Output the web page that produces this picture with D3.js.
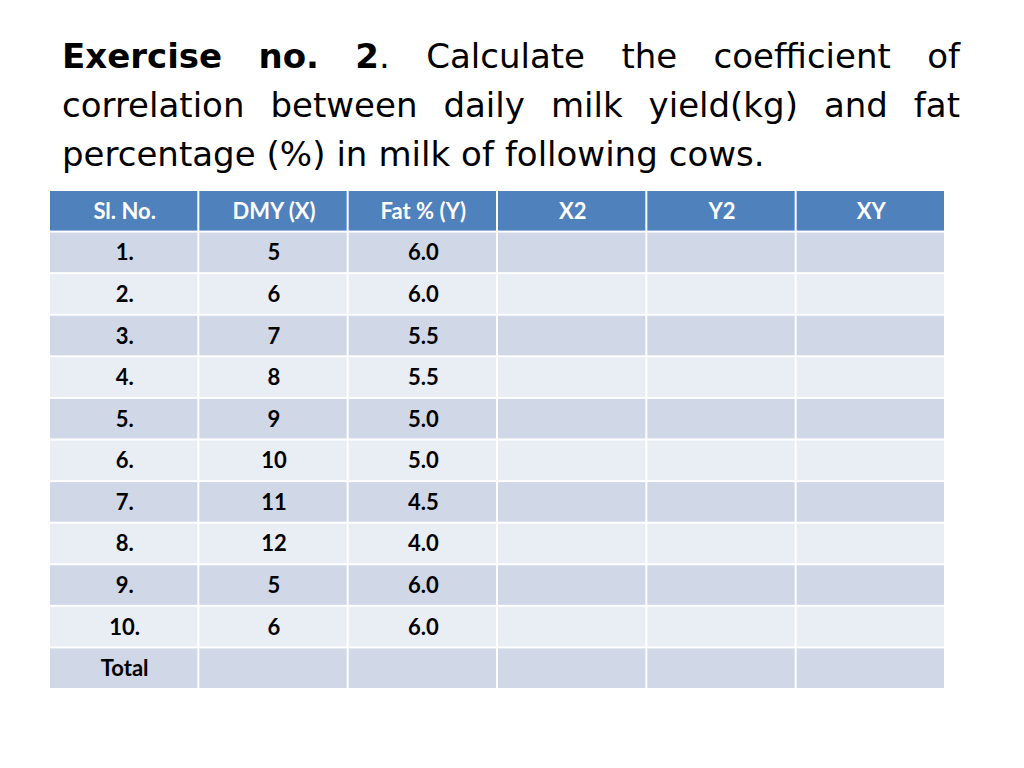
<!doctype html>
<html>
<head>
<meta charset="utf-8">
<script src="https://d3js.org/d3.v7.min.js"></script>
<style>body{margin:0;background:#fff}</style>
</head>
<body>
<svg id="c" width="1024" height="768"></svg>
<script>
const columns = ["Sl. No.", "DMY (X)", "Fat % (Y)", "X2", "Y2", "XY"];
const slNo = ["1.", "2.", "3.", "4.", "5.", "6.", "7.", "8.", "9.", "10.", "Total"];
const dmy = ["5", "6", "7", "8", "9", "10", "11", "12", "5", "6", ""];
const fat = ["6.0", "6.0", "5.5", "5.5", "5.0", "5.0", "4.5", "4.0", "6.0", "6.0", ""];
const titleLines = [
  [{t: "Exercise no. 2", b: true}, {t: ". Calculate the coefficient of"}],
  [{t: "correlation between daily milk yield(kg) and fat"}],
  [{t: "percentage (%) in milk of following cows."}]
];

const svg = d3.select("#c");
const font = "'Comic Sans MS', 'DejaVu Sans', sans-serif";
const cellFont = "Lato, 'Open Sans', sans-serif";

// title, justified lines (last line left aligned)
const left = 62, right = 960;
titleLines.forEach((parts, i) => {
  const y = 68 + i * 49;
  const words = [];
  parts.forEach(p => p.t.split(" ").filter(w => w).forEach((w, k) => {
    words.push({w: w, b: p.b, glue: k === 0 && w.startsWith(".")});
  }));
  const nodes = words.map(d => svg.append("text")
    .attr("y", y).attr("font-family", font).attr("font-size", 34)
    .attr("font-weight", d.b ? "bold" : "normal").attr("fill", "#000").text(d.w));
  const widths = nodes.map(n => n.node().getComputedTextLength());
  const gaps = words.filter((d, k) => k > 0 && !d.glue).length;
  const total = d3.sum(widths);
  const gap = i < 2 ? (right - left - total) / gaps : 11;
  let x = left;
  nodes.forEach((n, k) => {
    if (k > 0 && !words[k].glue) x += gap;
    n.attr("x", x);
    x += widths[k];
  });
});

// table
const rows = slNo.map((s, i) => [s, dmy[i], fat[i], "", "", ""]);
const x = d3.scaleBand().domain(d3.range(columns.length)).range([50, 946]);
const y = d3.scaleBand().domain(d3.range(rows.length + 1)).range([191, 690]);
const g = svg.append("g");

g.selectAll("rect.h").data(columns).join("rect")
  .attr("x", (d, i) => x(i)).attr("y", y(0))
  .attr("width", x.bandwidth() - 2).attr("height", y.bandwidth() - 2)
  .attr("fill", "#4F81BD");
g.selectAll("text.h").data(columns).join("text")
  .attr("x", (d, i) => x(i) + x.bandwidth() / 2).attr("y", y(0) + y.bandwidth() / 2 + 7)
  .attr("text-anchor", "middle").attr("font-family", cellFont)
  .attr("font-size", 22).attr("font-weight", "bold").attr("fill", "#fff").text(d => d);

rows.forEach((r, ri) => {
  const yy = y(ri + 1);
  r.forEach((v, ci) => {
    g.append("rect").attr("x", x(ci)).attr("y", yy)
      .attr("width", x.bandwidth() - 2).attr("height", y.bandwidth() - 2)
      .attr("fill", ri % 2 === 0 ? "#D0D8E8" : "#E9EDF4");
    if (v) g.append("text").attr("x", x(ci) + x.bandwidth() / 2).attr("y", yy + y.bandwidth() / 2 + 7)
      .attr("text-anchor", "middle").attr("font-family", cellFont)
      .attr("font-size", 22).attr("font-weight", "bold").attr("fill", "#000").text(v);
  });
});
</script>
</body>
</html>
